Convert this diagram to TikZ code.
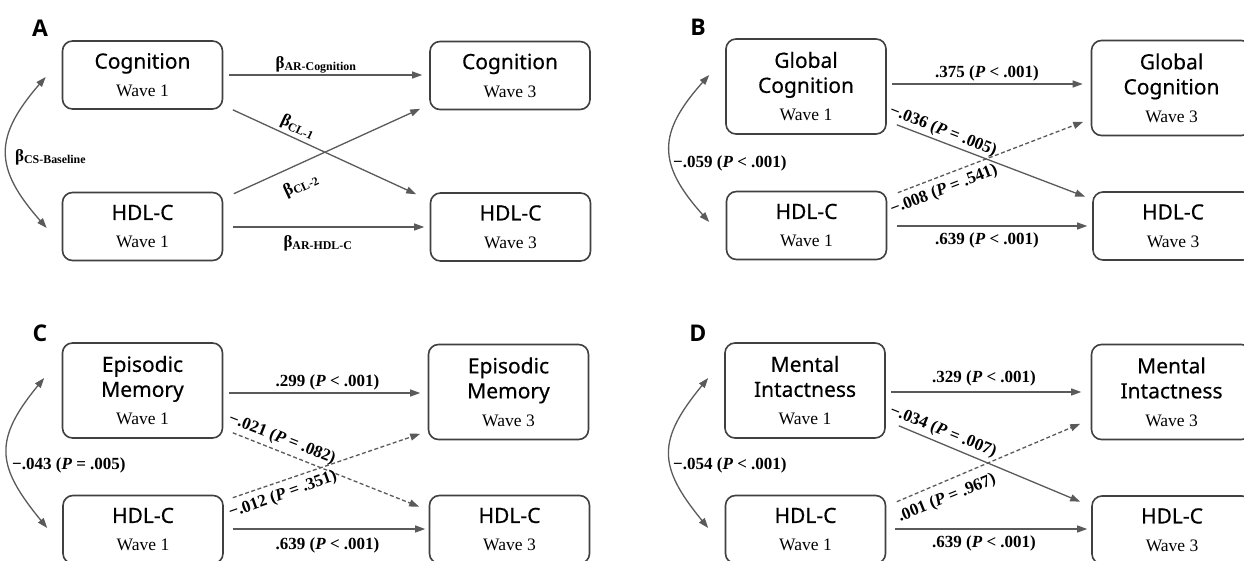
\documentclass[tikz,border=0pt]{standalone}
\usepackage{fontspec}
\setmainfont{Liberation Serif}
\newfontfamily\titlefamily{Noto Sans}[FakeBold=0.4]
\newfontfamily\panelfamily{Open Sans}
\usetikzlibrary{arrows.meta}
\definecolor{boxgray}{HTML}{404040}
\definecolor{arrgray}{HTML}{5A5A5A}
\newcommand\boxtitle{\titlefamily\fontsize{21}{25}\selectfont}
\newcommand\wavefont{\rmfamily\fontsize{17.5}{20}\selectfont}
\newcommand\labfont{\rmfamily\bfseries\fontsize{17}{20}\selectfont}
\newcommand\panelfont{\panelfamily\bfseries\fontsize{23}{25}\selectfont}
\newcommand\wave[1]{\\[3pt]{\wavefont Wave #1}}
\newcommand\bet[1]{β\textsubscript{#1}}
\newcommand\pv[2]{(\textit{P} #1 #2)}
\tikzset{
  box/.style={draw=boxgray, line width=1.6pt, rounded corners=10pt, minimum width=160pt, align=center, font=\boxtitle, inner sep=0pt},
  boxtwo/.style={box, minimum height=68pt},
  boxthree/.style={box, minimum height=95pt},
  arr/.style={draw=arrgray, line width=1.3pt, -{Triangle[length=10pt,width=7pt]}},
  darr/.style={arr, dash pattern=on 4pt off 2.5pt},
  curv/.style={draw=arrgray, line width=1.3pt, {Triangle[length=10pt,width=7pt]}-{Triangle[length=10pt,width=7pt]}},
  lab/.style={font=\labfont, inner sep=0pt},
  panel/.style={font=\panelfont, inner sep=0pt},
}
\begin{document}
\begin{tikzpicture}[x=1pt,y=-1pt]
\useasboundingbox (0,0) rectangle (1244,561);
\fill[white] (0,0) rectangle (1244,561);
\clip (0,0) rectangle (1244,561);

% ---------------- Panel A ----------------
\node[panel] (pA) at (40,28) {A};
\node[boxtwo] (A1) at (142.5,75) {Cognition\wave{1}};
\node[boxtwo] (A2) at (142.5,226.5) {HDL-C\wave{1}};
\node[boxtwo] (A3) at (510,75.5) {Cognition\wave{3}};
\node[boxtwo] (A4) at (510.5,227) {HDL-C\wave{3}};
\draw[arr] ([xshift=5.5pt]A1.east) -- ([xshift=-7pt,yshift=0.5pt]A3.west);
\draw[arr] ([xshift=9.5pt,yshift=-0.5pt]A2.east) -- ([xshift=-5.5pt]A4.west);
\draw[arr] ([xshift=9.5pt]A1.south east) -- ([xshift=-13.5pt,yshift=-2pt]A4.north west);
\draw[arr] ([xshift=10.5pt,yshift=-2pt]A2.north east) -- ([xshift=-9pt,yshift=1.5pt]A3.south west);
\draw[curv] ([xshift=-16pt,yshift=-2pt]A1.west) .. controls +(-52,60) and +(-53,-60) .. ([xshift=-15pt,yshift=-1.5pt]A2.west);
\node[lab] (lA1) at (316,65) {\bet{AR-Cognition}};
\node[lab, rotate=-25] (lA2) at (298,127) {\bet{CL-1}};
\node[lab, rotate=25] (lA3) at (301,185) {\bet{CL-2}};
\node[lab] (lA4) at (318,243) {\bet{AR-HDL-C}};
\node[lab, anchor=west] (lA5) at (15,157) {\bet{CS-Baseline}};

% ---------------- Panel B ----------------
\node[panel] (pB) at (698,27) {B};
\node[boxthree] (B1) at (806,86.5) {Global\\Cognition\wave{1}};
\node[boxtwo] (B2) at (806.5,225.5) {HDL-C\wave{1}};
\node[boxthree] (B3) at (1171.5,88) {Global\\Cognition\wave{3}};
\node[boxtwo] (B4) at (1173,226) {HDL-C\wave{3}};
\draw[arr] ([xshift=5pt,yshift=2.5pt]B1.east) -- ([xshift=-8pt,yshift=4pt]B3.west);
\draw[arr] ([xshift=9.5pt,yshift=-0.5pt]B2.east) -- ([xshift=-5pt]B4.west);
\draw[arr] ([xshift=10pt,yshift=10pt]B1.south east) -- ([xshift=-7pt,yshift=-5.5pt]B4.north west);
\draw[darr] ([xshift=10.5pt,yshift=-2pt]B2.north east) -- ([xshift=-7.5pt,yshift=14.5pt]B3.south west);
\draw[curv] ([xshift=-16pt,yshift=11.5pt]B1.west) .. controls +(-52,58) and +(-52,-58) .. ([xshift=-16.5pt,yshift=3.5pt]B2.west);
\node[lab] (lB1) at (987,73) {.375 \pv{<}{.001}};
\node[lab] (lB2) at (987,240) {.639 \pv{<}{.001}};
\node[lab, rotate=-21.5] (lB3) at (943,131) {−.036 \pv{=}{.005}};
\node[lab, rotate=21] (lB4) at (944,190) {−.008 \pv{=}{.541}};
\node[lab, anchor=west] (lB5) at (673,163) {−.059 \pv{<}{.001}};

% ---------------- Panel C ----------------
\node[panel] (pC) at (40,333) {C};
\node[boxthree] (C1) at (142.5,390.5) {Episodic\\Memory\wave{1}};
\node[boxtwo] (C2) at (143,529.5) {HDL-C\wave{1}};
\node[boxthree] (C3) at (508.5,392) {Episodic\\Memory\wave{3}};
\node[boxtwo] (C4) at (509.5,529.5) {HDL-C\wave{3}};
\draw[arr] ([xshift=5.5pt,yshift=-2.5pt]C1.east) -- ([xshift=-7.5pt,yshift=-1pt]C3.west);
\draw[arr] ([xshift=9pt,yshift=0.5pt]C2.east) -- ([xshift=-3.5pt,yshift=0.5pt]C4.west);
\draw[darr] ([xshift=9.5pt,yshift=6pt]C1.south east) -- ([xshift=-9.5pt,yshift=-12pt]C4.north west);
\draw[darr] ([xshift=9pt,yshift=-3pt]C2.north east) -- ([xshift=-7.5pt,yshift=6.5pt]C3.south west);
\draw[curv] ([xshift=-17.5pt,yshift=12.5pt]C1.west) .. controls +(-51,62) and +(-51,-62) .. ([xshift=-15pt,yshift=1.5pt]C2.west);
\node[lab] (lC1) at (327.5,382) {.299 \pv{<}{.001}};
\node[lab] (lC2) at (327.5,545) {.639 \pv{<}{.001}};
\node[lab, rotate=-21.5] (lC3) at (282,439) {−.021 \pv{=}{.082}};
\node[lab, rotate=19.5] (lC4) at (283,495) {−.012 \pv{=}{.351}};
\node[lab, anchor=west] (lC5) at (12,465) {−.043 \pv{=}{.005}};

% ---------------- Panel D ----------------
\node[panel] (pD) at (698,333) {D};
\node[boxthree] (D1) at (805,390.5) {Mental\\Intactness\wave{1}};
\node[boxtwo] (D2) at (805.5,529.5) {HDL-C\wave{1}};
\node[boxthree] (D3) at (1171.5,392) {Mental\\Intactness\wave{3}};
\node[boxtwo] (D4) at (1172,530) {HDL-C\wave{3}};
\draw[arr] ([xshift=5pt,yshift=-1.5pt]D1.east) -- ([xshift=-9.5pt]D3.west);
\draw[arr] ([xshift=8.5pt,yshift=0.5pt]D2.east) -- ([xshift=-4pt,yshift=1pt]D4.west);
\draw[arr] ([xshift=13pt,yshift=13pt]D1.south east) -- ([xshift=-11pt,yshift=-6.5pt]D4.north west);
\draw[darr] ([xshift=10.5pt,yshift=-7pt]D2.north east) -- ([xshift=-10.5pt,yshift=16.5pt]D3.south west);
\draw[curv] ([xshift=-16pt,yshift=12.5pt]D1.west) .. controls +(-51,62) and +(-51,-62) .. ([xshift=-16.5pt,yshift=1.5pt]D2.west);
\node[lab] (lD1) at (984,378) {.329 \pv{<}{.001}};
\node[lab] (lD2) at (984,543) {.639 \pv{<}{.001}};
\node[lab, rotate=-22] (lD3) at (943,431.5) {−.034 \pv{=}{.007}};
\node[lab, rotate=22] (lD4) at (947,498.5) {.001 \pv{=}{.967}};
\node[lab, anchor=west] (lD5) at (673,465) {−.054 \pv{<}{.001}};
\end{tikzpicture}
\end{document}
